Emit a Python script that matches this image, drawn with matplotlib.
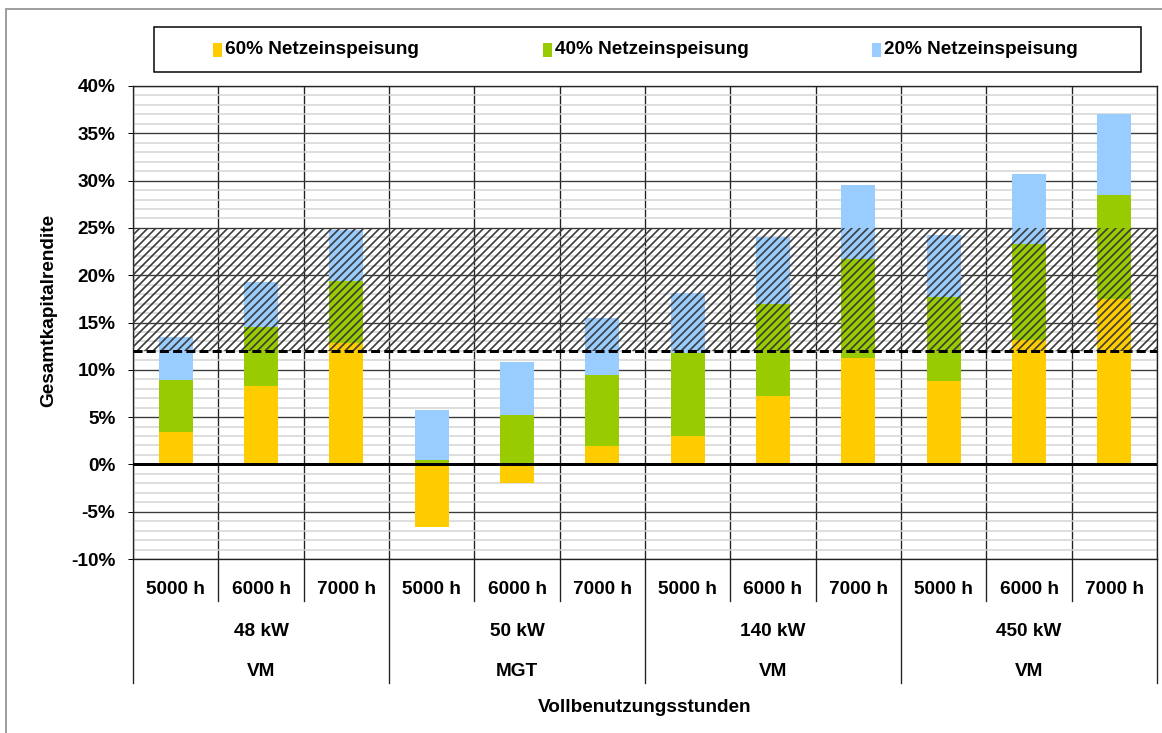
import numpy as np
import matplotlib
matplotlib.use("Agg")
import matplotlib.pyplot as plt
from matplotlib import transforms
from matplotlib.patches import Rectangle
from matplotlib.lines import Line2D

# data (percent)
hours = ["5000 h", "6000 h", "7000 h"] * 4
power = ["48 kW", "50 kW", "140 kW", "450 kW"]
types = ["VM", "MGT", "VM", "VM"]
series = ["60% Netzeinspeisung", "40% Netzeinspeisung", "20% Netzeinspeisung"]
val_60 = [3.4, 8.3, 12.8, -6.6, -2.0, 1.9, 3.0, 7.2, 11.2, 8.8, 13.2, 17.5]
val_40 = [8.9, 14.5, 19.4, 0.5, 5.2, 9.5, 11.8, 17.0, 21.7, 17.7, 23.3, 28.5]
val_20 = [13.45, 19.3, 24.8, 5.8, 10.8, 15.5, 18.1, 24.0, 29.5, 24.3, 30.7, 37.0]
target_low, target_high = 12, 25

colors = ["#FFCC00", "#99CC00", "#99CCFF"]

W, H, DPI = 1162, 733, 120
plt.rcParams["font.family"] = ["Liberation Sans", "DejaVu Sans"]
plt.rcParams["font.weight"] = "bold"
plt.rcParams["hatch.linewidth"] = 1.0
plt.rcParams["hatch.color"] = "#3c3c3c"

fig = plt.figure(figsize=(W / DPI, H / DPI), dpi=DPI)
fs = 11.4

def fx(px):
    return px / W

def fy(py):
    return 1 - py / H

ax = fig.add_axes([fx(133), fy(559), fx(1157) - fx(133), fy(86) - fy(559)])
x = np.arange(len(hours))

# overlapping bars, largest at the back
ax.bar(x, val_20, width=0.4, color=colors[2], zorder=2)
ax.bar(x, val_40, width=0.4, color=colors[1], zorder=2)
ax.bar(x, val_60, width=0.4, color=colors[0], zorder=2)

# target range
ax.axhspan(target_low, target_high, facecolor="none", edgecolor="#3c3c3c",
           hatch="/////", linewidth=0, zorder=3)
ax.axhline(target_low, color="black", lw=1.8, ls=(0, (3, 1.4)), zorder=4)
ax.axhline(0, color="black", lw=1.8, zorder=4)

ax.set_xlim(-0.5, len(hours) - 0.5)
ax.set_ylim(-10, 40)
ax.set_yticks(np.arange(-10, 41, 5))
ax.set_yticks(np.arange(-10, 41, 1), minor=True)
ax.set_yticklabels([f"{v:.0f}%" for v in np.arange(-10, 41, 5)],
                   fontsize=fs, fontweight="bold")
ax.tick_params(axis="y", which="major", length=3, width=0.6, pad=7.5)
ax.tick_params(axis="y", which="minor", length=0)
ax.set_xticks([])
ax.grid(axis="y", which="minor", color="#d4d4d4", lw=0.9, zorder=0)
ax.grid(axis="y", which="major", color="#3a3a3a", lw=0.8, zorder=1)
for xv in np.arange(-0.5, len(hours), 1):
    ax.axvline(xv, color="#222222", lw=0.8, zorder=1)
for s in ax.spines.values():
    s.set_color("#222222")
    s.set_linewidth(0.8)

# category table below the axis
tr = transforms.blended_transform_factory(ax.transData, fig.transFigure)
for i, h in enumerate(hours):
    ax.text(i, fy(590), h, transform=tr, ha="center", va="center",
            fontsize=fs, fontweight="bold")
for g in range(4):
    ax.text(3 * g + 1, fy(631), power[g], transform=tr, ha="center",
            va="center", fontsize=fs, fontweight="bold")
    ax.text(3 * g + 1, fy(672), types[g], transform=tr, ha="center",
            va="center", fontsize=fs, fontweight="bold")
for xv in np.arange(-0.5, len(hours), 1):
    bottom = 683 if (xv + 0.5) % 3 == 0 else 601
    ax.add_line(Line2D([xv, xv], [fy(559), fy(bottom)], transform=tr,
                       color="#222222", lw=0.8, clip_on=False))

fig.text(fx(645), fy(708), "Vollbenutzungsstunden", ha="center", va="center",
         fontsize=fs, fontweight="bold")
fig.text(fx(49), fy(310), "Gesamtkapitalrendite", rotation=90, ha="center",
         va="center", fontsize=fs, fontweight="bold")

# legend box
fig.add_artist(Rectangle((fx(154), fy(72)), fx(1141) - fx(154), fy(27) - fy(72),
                         transform=fig.transFigure, facecolor="white",
                         edgecolor="black", lw=0.9))
for k, xs in enumerate([213, 543, 872]):
    fig.add_artist(Rectangle((fx(xs), fy(57)), fx(9), fy(43) - fy(57),
                             transform=fig.transFigure, facecolor=colors[k],
                             edgecolor="none"))
    fig.text(fx(xs + 12), fy(50), series[k], ha="left", va="center",
             fontsize=fs, fontweight="bold")

# outer chart frame
fig.add_artist(Line2D([fx(6), fx(6)], [fy(9), 0], transform=fig.transFigure,
                      color="#a0a0a0", lw=1.2))
fig.add_artist(Line2D([fx(6), 1], [fy(9), fy(9)], transform=fig.transFigure,
                      color="#a0a0a0", lw=1.2))

fig.savefig("out.png", dpi=DPI)
